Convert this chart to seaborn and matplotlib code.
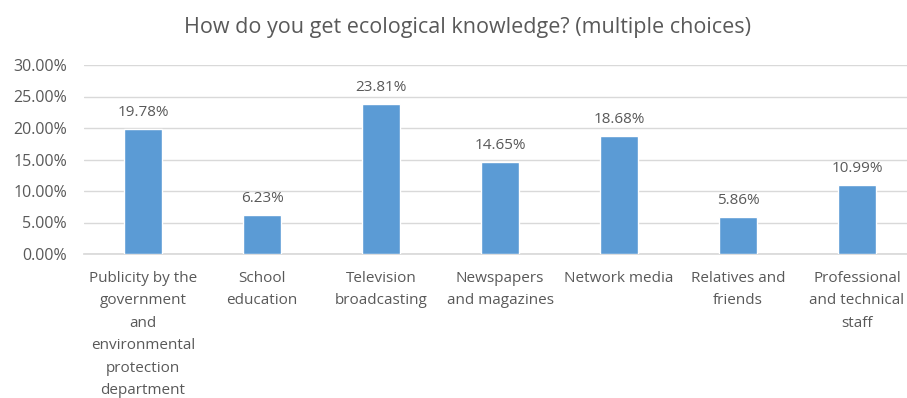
import matplotlib
matplotlib.use("Agg")
import matplotlib.pyplot as plt
import seaborn as sns
import pandas as pd

categories = [
    "Publicity by the\ngovernment\nand\nenvironmental\nprotection\ndepartment",
    "School\neducation",
    "Television\nbroadcasting",
    "Newspapers\nand magazines",
    "Network media",
    "Relatives and\nfriends",
    "Professional\nand technical\nstaff",
]
shares = [19.78, 6.23, 23.81, 14.65, 18.68, 5.86, 10.99]
y_ticks = [0, 5, 10, 15, 20, 25, 30]
title = "How do you get ecological knowledge? (multiple choices)"

sns.set_theme(style="white")
plt.rcParams["font.family"] = ["Open Sans", "DejaVu Sans"]

text_color = "#595959"
bar_color = "#5B9BD5"
grid_color = "#D9D9D9"

df = pd.DataFrame({"category": categories, "share": shares})

fig = plt.figure(figsize=(9.07, 3.98), dpi=100)
ax = fig.add_axes([83.5 / 907, 1 - 254 / 398, 833 / 907, 189 / 398])

sns.barplot(data=df, x="category", y="share", color=bar_color, width=0.32,
            saturation=1, ax=ax, zorder=3)

ax.set_ylim(0, 30)
ax.set_yticks(y_ticks)
ax.set_yticklabels([f"{v:.2f}%" for v in y_ticks], color=text_color, fontsize=11.5)
ax.yaxis.grid(True, color=grid_color, linewidth=1, zorder=0)
ax.tick_params(axis="y", length=0, pad=12)
ax.tick_params(axis="x", length=0, pad=12)
ax.set_xticks(range(len(categories)))
ax.set_xticklabels(categories, color=text_color, fontsize=11, linespacing=1.68)
ax.set_xlabel("")
ax.set_ylabel("")
for s in ["top", "right", "left"]:
    ax.spines[s].set_visible(False)
ax.spines["bottom"].set_color(grid_color)

for i, v in enumerate(shares):
    ax.annotate(f"{v:.2f}%", (i, v), xytext=(0, 12), textcoords="offset points",
                ha="center", va="center", color=text_color, fontsize=11)

fig.text(468 / 907, 1 - 28 / 398, title, ha="center", va="center",
         color=text_color, fontsize=15.5)

fig.savefig("out.png", dpi=100)
